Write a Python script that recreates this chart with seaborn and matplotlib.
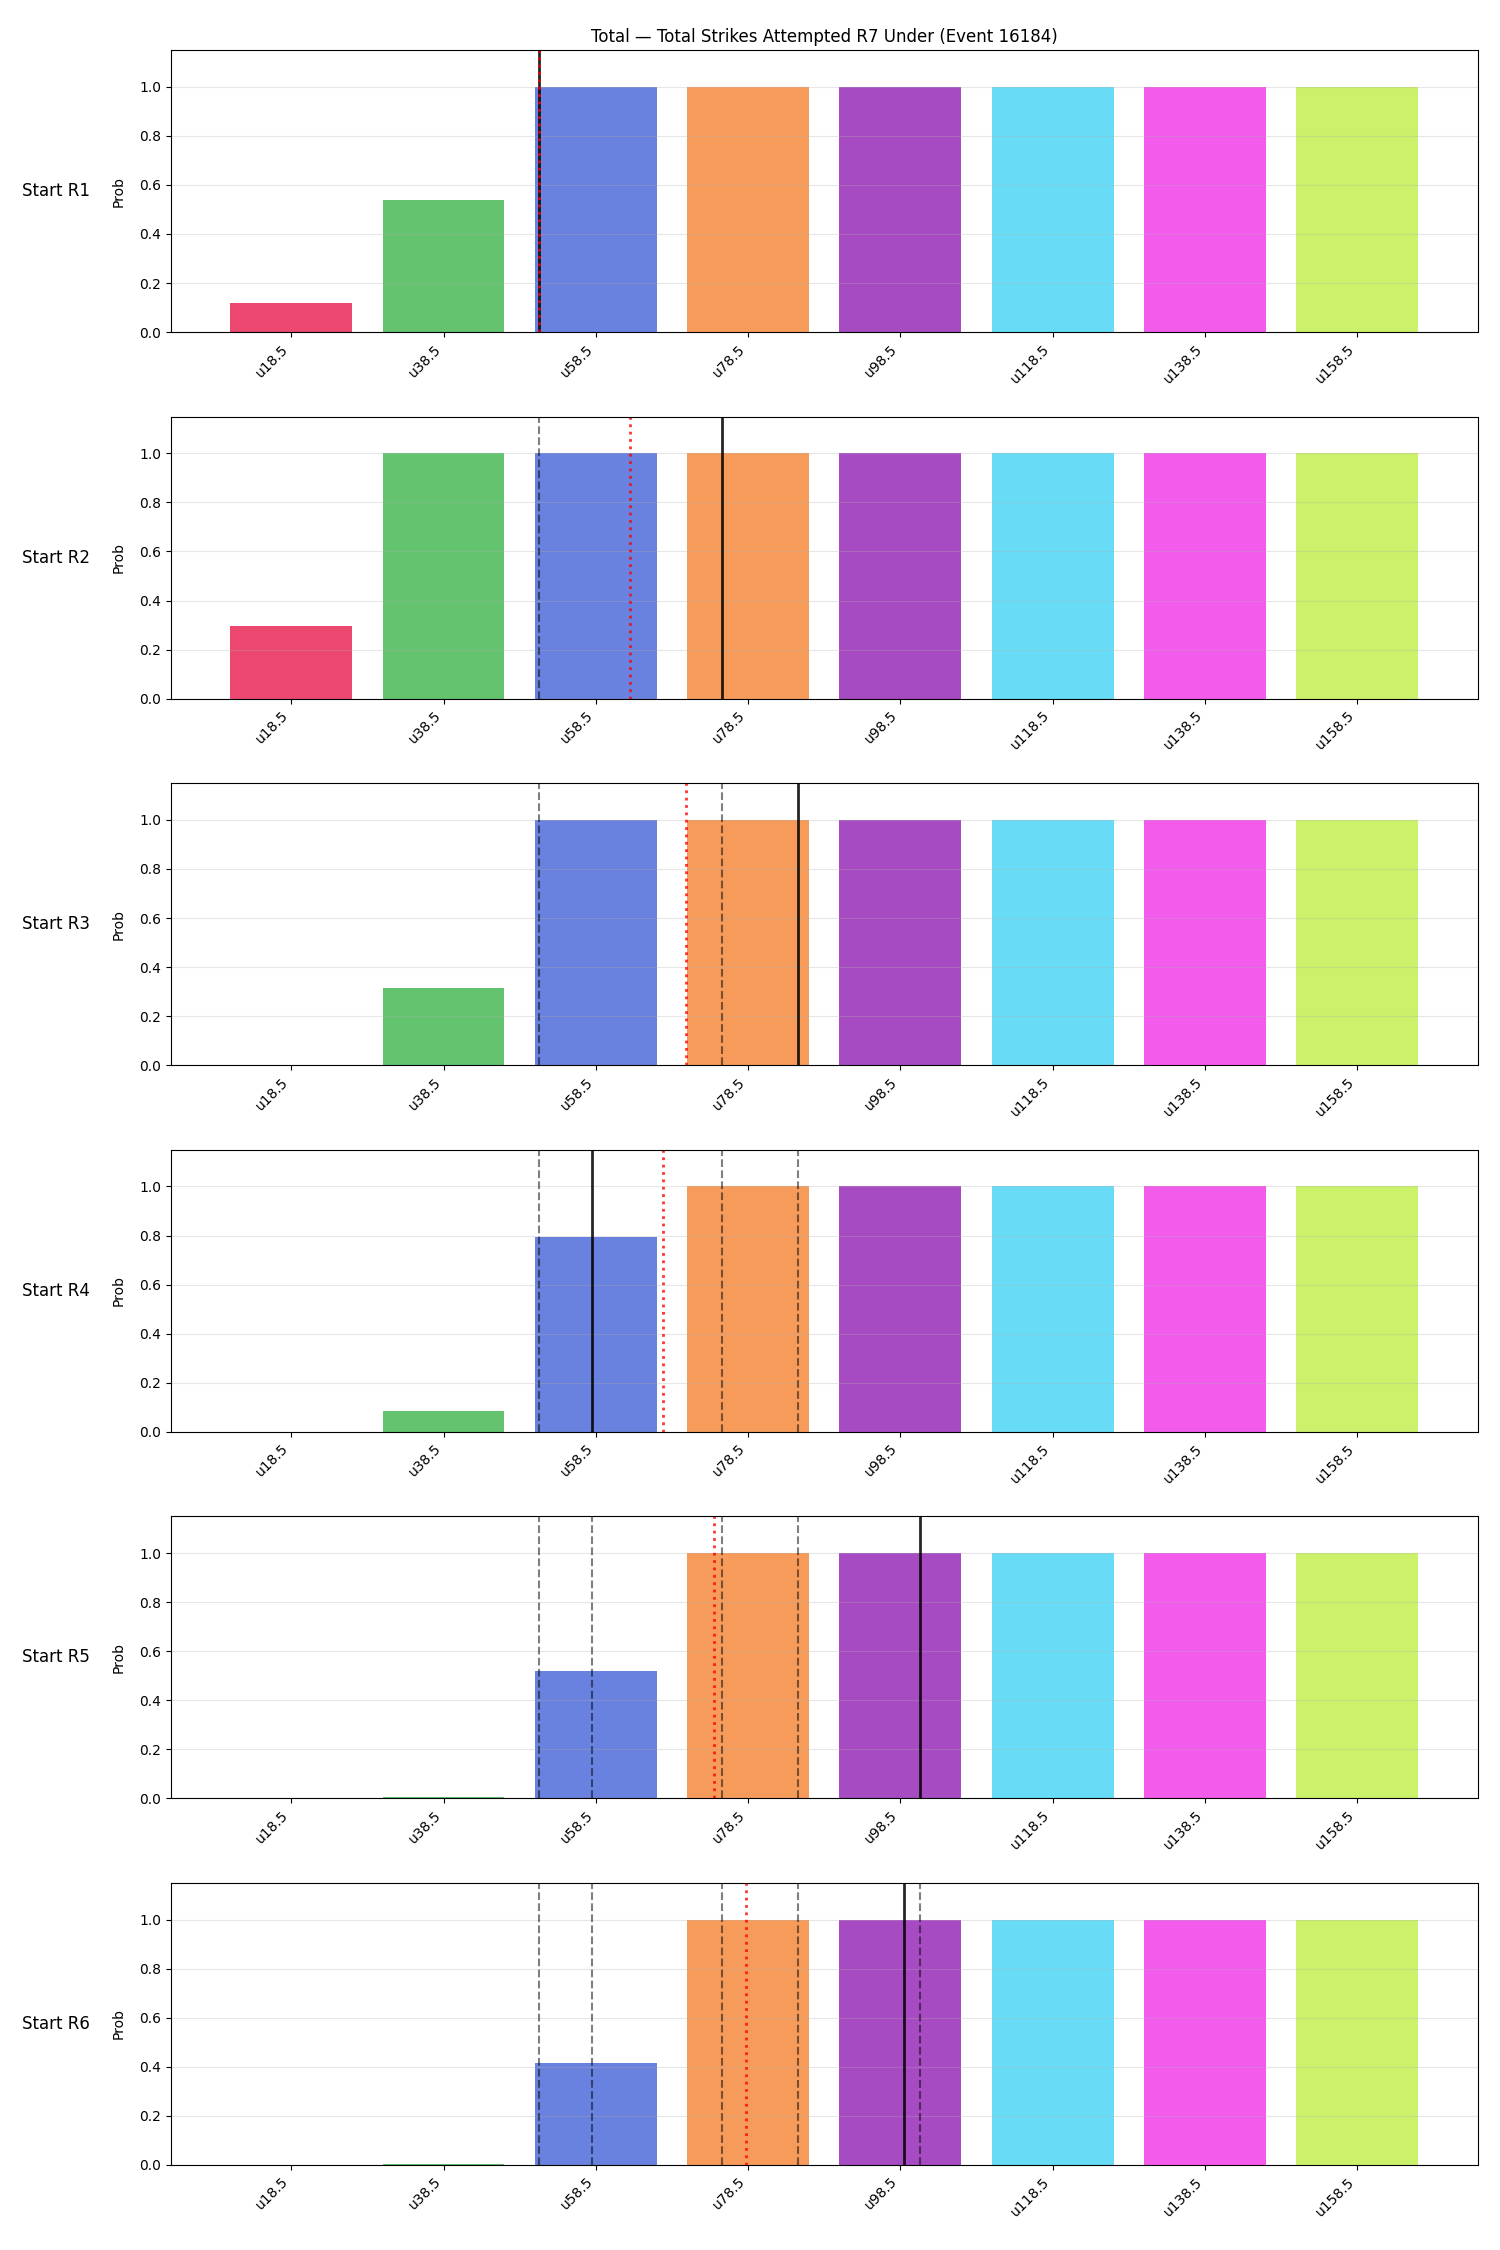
import numpy as np
import seaborn as sns
import matplotlib.pyplot as plt

# under-lines and colours
lines = ['u18.5', 'u38.5', 'u58.5', 'u78.5', 'u98.5', 'u118.5', 'u138.5', 'u158.5']
thresholds = [18.5, 38.5, 58.5, 78.5, 98.5, 118.5, 138.5, 158.5]
colors = ['#e6194b', '#3cb44b', '#4363d8', '#f58231', '#911eb4', '#42d4f4', '#f032e6', '#bfef45']

rows = ['Start R1', 'Start R2', 'Start R3', 'Start R4', 'Start R5', 'Start R6']

# prob of under for each row
prob_r1 = [0.117, 0.538, 1.0, 1.0, 1.0, 1.0, 1.0, 1.0]
prob_r2 = [0.297, 1.0, 1.0, 1.0, 1.0, 1.0, 1.0, 1.0]
prob_r3 = [0.0, 0.316, 1.0, 1.0, 1.0, 1.0, 1.0, 1.0]
prob_r4 = [0.0, 0.085, 0.795, 1.0, 1.0, 1.0, 1.0, 1.0]
prob_r5 = [0.0, 0.005, 0.52, 1.0, 1.0, 1.0, 1.0, 1.0]
prob_r6 = [0.0, 0.005, 0.415, 1.0, 1.0, 1.0, 1.0, 1.0]
probs = [prob_r1, prob_r2, prob_r3, prob_r4, prob_r5, prob_r6]

# current total (solid) and projection (red dotted) per row
current = [51.0, 75.1, 85.1, 58.0, 101.1, 99.0]
projected = [51.0, 63.0, 70.4, 67.3, 74.0, 78.2]

fig, axes = plt.subplots(6, 1, figsize=(15, 22.5), dpi=100)

for i, ax in enumerate(axes):
    sns.barplot(x=lines, y=probs[i], hue=lines, palette=colors, alpha=0.8,
                saturation=1, legend=False, ax=ax, width=0.8)
    ax.set_xlim(-0.79, 7.79)
    ax.set_ylim(0, 1.15)
    ax.set_yticks([0.0, 0.2, 0.4, 0.6, 0.8, 1.0])
    ax.grid(axis='y', alpha=0.3)
    ax.set_ylabel('Prob', labelpad=10)
    ax.set_xlabel('')
    ax.tick_params(axis='x', labelrotation=45)
    for lab in ax.get_xticklabels():
        lab.set_ha('right')

    # earlier totals dashed
    for prev in current[:i]:
        ax.axvline(np.interp(prev, thresholds, range(8)), color='k', ls='--', lw=1.5, alpha=0.5)
    ax.axvline(np.interp(current[i], thresholds, range(8)), color='k', lw=2, alpha=0.85)
    ax.axvline(np.interp(projected[i], thresholds, range(8)), color='red', ls=':', lw=2, alpha=0.8)

    ax.text(-0.062, 0.5, rows[i], transform=ax.transAxes, ha='right', va='center', fontsize=12)

axes[0].set_title('Total — Total Strikes Attempted R7 Under (Event 16184)', fontsize=12)

plt.subplots_adjust(left=0.114, right=0.985, top=0.9778, bottom=0.0378, hspace=0.299)
plt.savefig('out.png')
